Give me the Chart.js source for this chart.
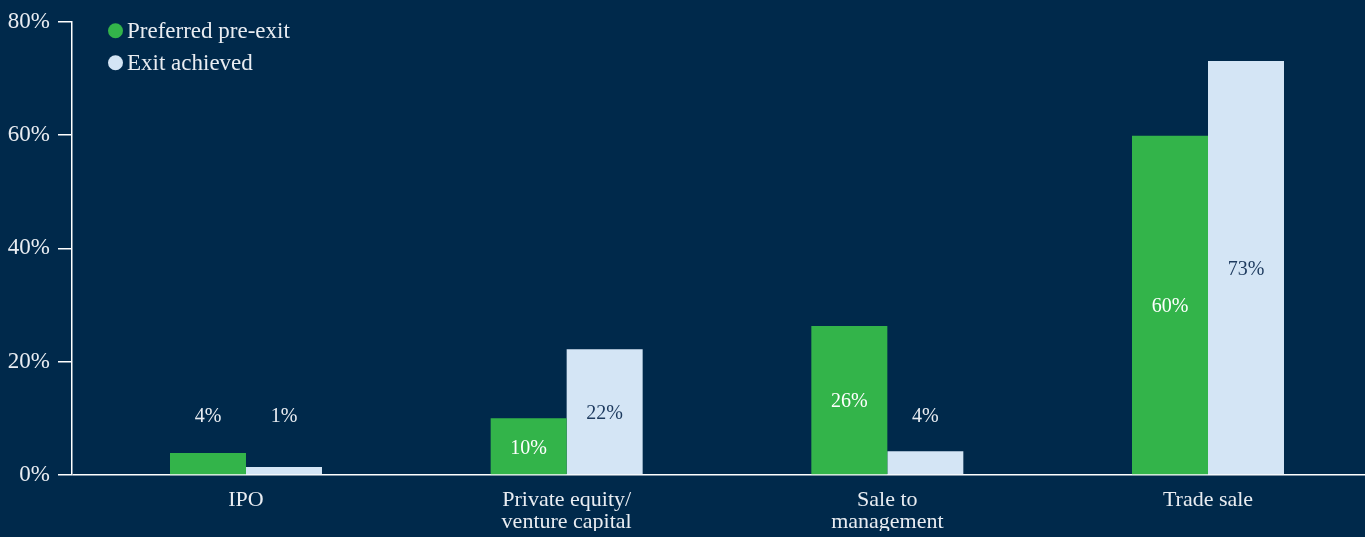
<!DOCTYPE html>
<html>
<head>
<meta charset="utf-8">
<script src="https://cdn.jsdelivr.net/npm/chart.js@4/dist/chart.umd.min.js"></script>
<style>
html,body{margin:0;padding:0;background:#00294b;overflow:hidden;}
#wrap{width:1365px;height:537px;position:relative;}
</style>
</head>
<body>
<div id="wrap"><canvas id="exitChart"></canvas></div>
<script>
const categories = ["IPO", ["Private equity/", "venture capital"], ["Sale to", "management"], "Trade sale"];
const seriesNames = ["Preferred pre-exit", "Exit achieved"];
const preferredValues = [3.9, 10.0, 26.3, 59.9];
const achievedValues = [1.4, 22.2, 4.2, 73.1];
const yTicks = [0, 20, 40, 60, 80];

const BG = "#00294b";
const GREEN = "#33b44a";
const LIGHT = "#d4e5f5";
const TEXT = "#e9edf2";
const NAVY = "#1d3a5e";
const FONT = "'Liberation Serif', serif";

const bgPlugin = {
    id: "bg",
    beforeDraw(chart){
        const ctx = chart.ctx;
        ctx.save();
        ctx.fillStyle = BG;
        ctx.fillRect(0, 0, chart.width, chart.height);
        ctx.restore();
    }
};

// value labels: middle of the bar, or floating above for small bars
const valueLabels = {
    id: "valueLabels",
    afterDatasetsDraw(chart){
        const ctx = chart.ctx;
        const yScale = chart.scales.y;
        ctx.save();
        ctx.font = "20px " + FONT;
        ctx.textAlign = "center";
        ctx.textBaseline = "middle";
        chart.data.datasets.forEach((ds, di) => {
            chart.getDatasetMeta(di).data.forEach((bar, i) => {
                const v = ds.data[i].y;
                let y, color;
                if(v >= 8){
                    y = (bar.y + bar.base) / 2 + 2;
                    color = di === 0 ? "#ffffff" : NAVY;
                } else {
                    y = yScale.getPixelForValue(10.2);
                    color = TEXT;
                }
                ctx.fillStyle = color;
                ctx.fillText(Math.round(v) + "%", bar.x, y);
            });
        });
        ctx.restore();
    }
};

const dotLegend = {
    id: "dotLegend",
    afterDraw(chart){
        const ctx = chart.ctx;
        const area = chart.chartArea;
        ctx.save();
        ctx.font = "23px " + FONT;
        ctx.textAlign = "left";
        ctx.textBaseline = "middle";
        chart.data.datasets.forEach((ds, i) => {
            const cy = area.top + 9 + i * 32;
            ctx.fillStyle = ds.backgroundColor;
            ctx.beginPath();
            ctx.arc(area.left + 43.5, cy, 7.5, 0, Math.PI * 2);
            ctx.fill();
            ctx.fillStyle = TEXT;
            ctx.fillText(ds.label, area.left + 55, cy + 1);
        });
        ctx.restore();
    }
};

function toPoints(values){
    return values.map((v, i) => ({x: i, y: v}));
}

new Chart(document.getElementById("exitChart"), {
    type: "bar",
    data: {
        datasets: [
            {
                label: seriesNames[0],
                data: toPoints(preferredValues),
                backgroundColor: GREEN,
                barPercentage: 1,
                categoryPercentage: 0.474
            },
            {
                label: seriesNames[1],
                data: toPoints(achievedValues),
                backgroundColor: LIGHT,
                barPercentage: 1,
                categoryPercentage: 0.474
            }
        ]
    },
    options: {
        responsive: true,
        maintainAspectRatio: false,
        animation: false,
        layout: {
            padding: {top: 19, right: 0, bottom: 6, left: 0}
        },
        plugins: {
            legend: {display: false},
            tooltip: {enabled: false}
        },
        scales: {
            x: {
                type: "linear",
                offset: false,
                min: -0.5426,
                max: 3.4896,
                grid: {display: false, drawTicks: false, offset: false},
                border: {display: false},
                afterBuildTicks(scale){
                    scale.ticks = categories.map((c, i) => ({value: i}));
                },
                afterFit(scale){
                    scale.height = 56;
                },
                ticks: {
                    color: TEXT,
                    padding: 14,
                    maxRotation: 0,
                    autoSkip: false,
                    font: {family: FONT, size: 22, lineHeight: 1.0},
                    callback: (value) => categories[value]
                }
            },
            y: {
                min: 0,
                max: 80,
                afterBuildTicks(scale){
                    scale.ticks = yTicks.map(v => ({value: v}));
                },
                afterFit(scale){
                    scale.width = 72;
                },
                grid: {
                    color: (c) => c.tick && c.tick.value === 0 ? "#ffffff" : "rgba(0,0,0,0)",
                    tickColor: "#ffffff",
                    tickLength: 14,
                    lineWidth: 1.5
                },
                border: {display: true, color: "#ffffff", width: 1.5},
                ticks: {
                    color: TEXT,
                    padding: 8,
                    font: {family: FONT, size: 23},
                    callback: (value) => value + "%"
                }
            }
        }
    },
    plugins: [bgPlugin, valueLabels, dotLegend]
});
</script>
</body>
</html>
